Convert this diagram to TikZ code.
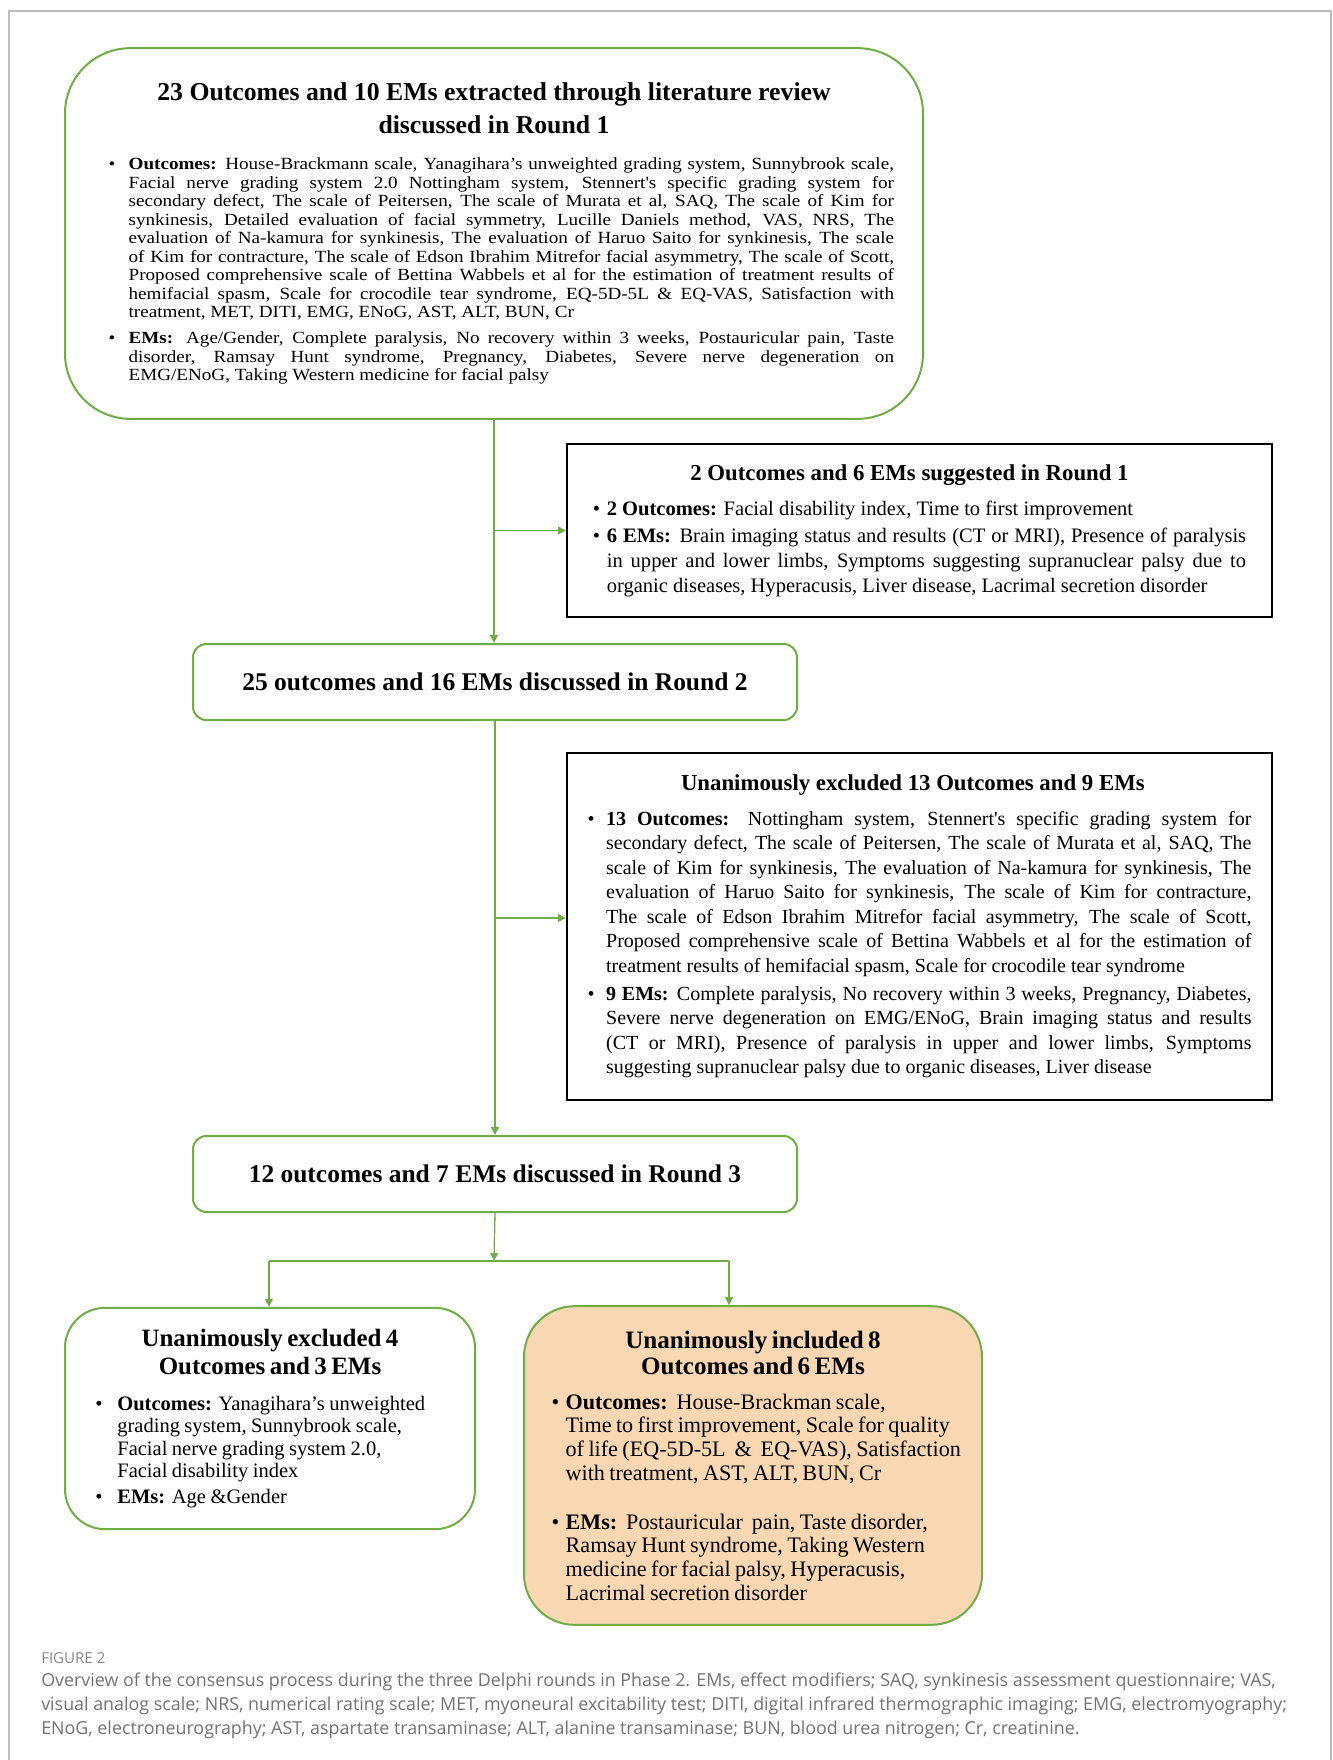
\documentclass[tikz,border=0pt]{standalone}
\usepackage{fontspec}
\setmainfont{Liberation Serif}
\newfontfamily\widefont[FakeStretch=1.12]{Liberation Serif}
\newfontfamily\capfont{Open Sans}
\usetikzlibrary{arrows.meta}
\definecolor{boxgreen}{HTML}{70AD47}
\definecolor{peach}{HTML}{F8D7B2}
\definecolor{framegray}{HTML}{BDBDBD}
\definecolor{capgray}{HTML}{727272}
\newlength{\hangw}
\newcommand{\pitem}{\par\hangindent=\hangw\hangafter=1\noindent\makebox[\hangw][l]{\textbullet}}

\begin{document}
\begin{tikzpicture}[x=0.75pt,y=-0.75pt,
    greenbox/.style={draw=boxgreen,line width=1.5pt,fill=white},
    blackbox/.style={draw=black,line width=1.5pt,fill=white},
    link/.style={draw=boxgreen,line width=1pt},
    >={Triangle[length=6pt,width=6pt]}]
  \useasboundingbox (0,0) rectangle (1333,1760);
  \draw[framegray,line width=1.3pt] (9,1760) -- (9,11) -- (1331,11) -- (1331,1760);

  \node[greenbox,rounded corners=49pt,minimum width=643.5pt,minimum height=278pt,
        text width=600pt,align=justify,font=\widefont] (lit) at (494,233.5) {%
    {\centering\rmfamily\bfseries\fontsize{19.3}{25}\selectfont 23 Outcomes and 10 EMs extracted through literature review\\ discussed in Round 1\par}
    \fontsize{12.8}{13.9}\selectfont\setlength{\hangw}{15pt}\leftskip=11pt\vspace{13pt}
    \pitem\textbf{Outcomes:} House-Brackmann scale, Yanagihara’s unweighted grading system, Sunnybrook scale,\linebreak
    Facial nerve grading system 2.0 Nottingham system, Stennert's specific grading system for\linebreak
    secondary defect, The scale of Peitersen, The scale of Murata et al, SAQ, The scale of Kim for\linebreak
    synkinesis, Detailed evaluation of facial symmetry, Lucille Daniels method, VAS, NRS, The\linebreak
    evaluation of Na-kamura for synkinesis, The evaluation of Haruo Saito for synkinesis, The scale\linebreak
    of Kim for contracture, The scale of Edson Ibrahim Mitrefor facial asymmetry, The scale of Scott,\linebreak
    Proposed comprehensive scale of Bettina Wabbels et al for the estimation of treatment results of\linebreak
    hemifacial spasm, Scale for crocodile tear syndrome, EQ-5D-5L \& EQ-VAS, Satisfaction with\linebreak
    treatment, MET, DITI, EMG, ENoG, AST, ALT, BUN, Cr
    \par\vspace{5.5pt}
    \pitem\textbf{EMs:} Age/Gender, Complete paralysis, No recovery within 3 weeks, Postauricular pain, Taste\linebreak
    disorder, Ramsay Hunt syndrome, Pregnancy, Diabetes, Severe nerve degeneration on\linebreak
    EMG/ENoG, Taking Western medicine for facial palsy\par};

  \node[blackbox,minimum width=529pt,minimum height=130pt,text width=490pt,align=justify] (sugg) at (919.5,530.5) {%
    {\centering\bfseries\fontsize{17.1}{20}\selectfont 2 Outcomes and 6 EMs suggested in Round 1\hspace*{15pt}\par}
    \fontsize{15.4}{18.5}\selectfont\setlength{\hangw}{10.5pt}\vspace{8pt}
    \pitem\textbf{2 Outcomes:} Facial disability index, Time to first improvement
    \par\vspace{2pt}
    \pitem\textbf{6 EMs:} Brain imaging status and results (CT or MRI), Presence of paralysis\linebreak
    in upper and lower limbs, Symptoms suggesting supranuclear palsy due to\linebreak
    organic diseases, Hyperacusis, Liver disease, Lacrimal secretion disorder\par};

  \node[greenbox,rounded corners=10pt,minimum width=453pt,minimum height=57pt,
        font=\bfseries\fontsize{19.1}{22}\selectfont] (r2) at (495,682) {25 outcomes and 16 EMs discussed in Round 2};

  \node[blackbox,minimum width=529pt,minimum height=260pt,text width=498pt,align=justify] (excl) at (919.5,926.5) {%
    {\centering\bfseries\fontsize{17.1}{20}\selectfont Unanimously excluded 13 Outcomes and 9 EMs\hspace*{10pt}\par}
    \fontsize{15}{18.4}\selectfont\setlength{\hangw}{14pt}\vspace{7.5pt}
    \pitem\textbf{13 Outcomes:} Nottingham system, Stennert\textquotesingle s specific grading system for\linebreak
    secondary defect, The scale of Peitersen, The scale of Murata et al, SAQ, The\linebreak
    scale of Kim for synkinesis, The evaluation of Na-kamura for synkinesis, The\linebreak
    evaluation of Haruo Saito for synkinesis, The scale of Kim for contracture,\linebreak
    The scale of Edson Ibrahim Mitrefor facial asymmetry, The scale of Scott,\linebreak
    Proposed comprehensive scale of Bettina Wabbels et al for the estimation of\linebreak
    treatment results of hemifacial spasm, Scale for crocodile tear syndrome
    \par\vspace{2.5pt}
    \pitem\textbf{9 EMs:} Complete paralysis, No recovery within 3 weeks, Pregnancy, Diabetes,\linebreak
    Severe nerve degeneration on EMG/ENoG, Brain imaging status and results\linebreak
    (CT or MRI), Presence of paralysis in upper and lower limbs, Symptoms\linebreak
    suggesting supranuclear palsy due to organic diseases, Liver disease\par};

  \node[greenbox,rounded corners=10pt,minimum width=453pt,minimum height=57pt,
        font=\bfseries\fontsize{19.1}{22}\selectfont] (r3) at (495,1174) {12 outcomes and 7 EMs discussed in Round 3};

  \node[greenbox,rounded corners=30pt,minimum width=307.5pt,minimum height=166pt,text width=262pt,align=left] (exclfinal) at (270,1418.5) {%
    {\centering\bfseries\fontsize{18.7}{21}\selectfont Unanimously excluded 4\\ Outcomes and 3 EMs\par}
    \fontsize{15.4}{16.8}\selectfont\setlength{\hangw}{16.5pt}\vspace{10pt}
    \pitem\textbf{Outcomes:} Yanagihara’s unweighted\linebreak
    grading system, Sunnybrook scale,\linebreak
    Facial nerve grading system 2.0,\linebreak
    Facial disability index
    \par\vspace{2.6pt}
    \pitem\textbf{EMs:} Age \&Gender\par};

  \node[greenbox,fill=peach,rounded corners=38pt,minimum width=343.5pt,minimum height=239pt,text width=326pt,align=left] (incl) at (753,1465.5) {%
    {\centering\bfseries\fontsize{18.8}{20.2}\selectfont Unanimously included 8\\ Outcomes and 6 EMs\par}
    \fontsize{16.6}{17.7}\selectfont\setlength{\hangw}{10.5pt}\leftskip=12pt\vspace{8pt}
    \pitem\textbf{Outcomes:}\ \ House-Brackman scale,\linebreak
    Time to first improvement, Scale for quality\linebreak
    of life (EQ-5D-5L\ \ \&\ \ EQ-VAS), Satisfaction\linebreak
    with treatment, AST, ALT, BUN, Cr
    \par\vspace{19.3pt}
    \pitem\textbf{EMs:}\ \ Postauricular\ \ pain, Taste disorder,\linebreak
    Ramsay Hunt syndrome, Taking Western\linebreak
    medicine for facial palsy, Hyperacusis,\linebreak
    Lacrimal secretion disorder\par};

  % connectors
  \coordinate (j2) at (494,918);
  \coordinate (split) at (494,1261);
  \coordinate (lb) at (269,1261);
  \coordinate (rb) at (729,1261);
  \draw[link,->] (lit.south) -- (lit.south |- r2.north);
  \draw[link,->] (lit.south |- sugg.west) -- (sugg.west);
  \draw[link,->] (r2.south) -- (r2.south |- r3.north);
  \draw[link,->] (j2) -- (j2 -| excl.west);
  \draw[link,->] (r3.south) -- (split);
  \draw[link] (lb) -- (rb);
  \draw[link,->] (lb) -- (lb |- exclfinal.north);
  \draw[link,->] (rb) -- (rb |- incl.north);

  % caption
  \node[anchor=north west,inner sep=0pt,text=capgray!85,font=\capfont\fontsize{11.3}{13}\selectfont] (figlabel) at (41,1652) {FIGURE 2};
  \node[anchor=north west,inner sep=0pt,align=left,text=capgray,font=\capfont\fontsize{13.4}{17.7}\selectfont] (cap) at (41,1673) {%
    Overview of the consensus process during the three Delphi rounds in Phase 2. EMs, effect modifiers; SAQ, synkinesis assessment questionnaire; VAS,\\
    visual analog scale; NRS, numerical rating scale; MET, myoneural excitability test; DITI, digital infrared thermographic imaging; EMG, electromyography;\\
    ENoG, electroneurography; AST, aspartate transaminase; ALT, alanine transaminase; BUN, blood urea nitrogen; Cr, creatinine.};
\end{tikzpicture}
\end{document}
